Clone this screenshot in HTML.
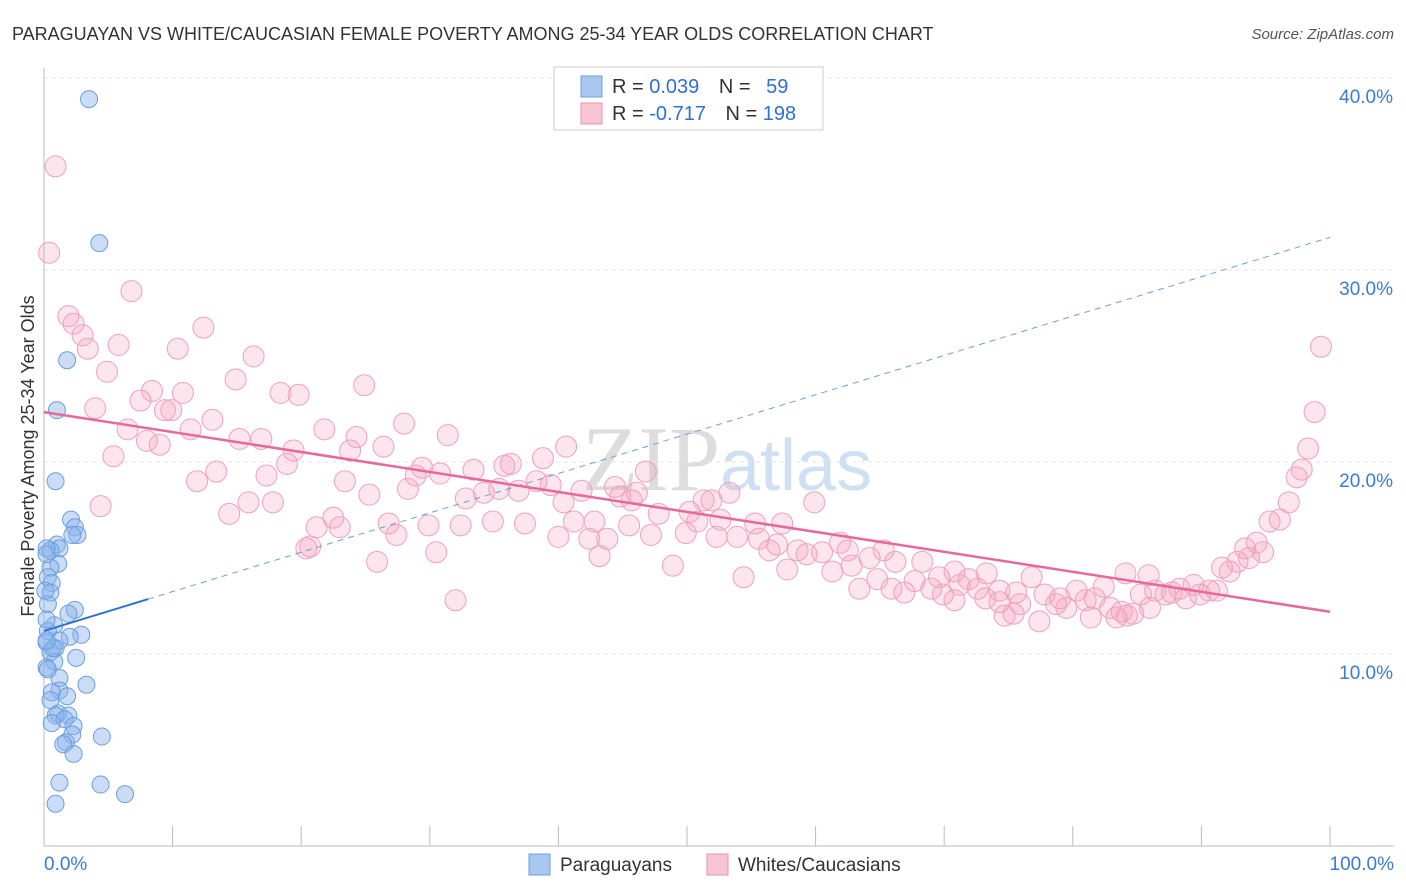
<!DOCTYPE html>
<html><head><meta charset="utf-8"><style>
body{margin:0;background:#fff;font-family:"Liberation Sans",sans-serif;}
#wrap{position:relative;width:1406px;height:892px;overflow:hidden;}
</style></head><body>
<div id="wrap">
<svg id="svg" width="1406" height="892" xmlns="http://www.w3.org/2000/svg">
<text x="12" y="40" font-size="18" fill="#333">PARAGUAYAN VS WHITE/CAUCASIAN FEMALE POVERTY AMONG 25-34 YEAR OLDS CORRELATION CHART</text>
<text x="1394" y="39" font-size="15" fill="#555" text-anchor="end" font-style="italic">Source: ZipAtlas.com</text>
<text x="720" y="490" font-size="92" fill="#ddd" text-anchor="end" font-family="Liberation Serif">ZIP</text>
<text x="720" y="490" font-size="72" fill="#cfe0f4">atlas</text>
<text transform="translate(34,456) rotate(-90)" font-size="18" fill="#333" text-anchor="middle">Female Poverty Among 25-34 Year Olds</text>
<g id="grid"></g><g id="ticks"></g><g id="pts"></g><g id="lines"></g>
<g>
<rect x="554" y="67" width="269" height="63" fill="#fff" stroke="#ccc"/>
<rect x="581" y="76" width="21" height="21" fill="#a9c8f0" stroke="#6a9fe0"/>
<rect x="581" y="103" width="21" height="21" fill="#f8c4d4" stroke="#e890b0"/>
<text x="612" y="93" font-size="20" fill="#333">R = <tspan fill="#2f6fd6"> 0.039</tspan>   <tspan dx="14">N = </tspan><tspan fill="#2f6fd6" dx="10">59</tspan></text>
<text x="612" y="120" font-size="20" fill="#333">R = <tspan fill="#2f6fd6">-0.717</tspan>   <tspan dx="14">N = </tspan><tspan fill="#2f6fd6">198</tspan></text>
</g>
<g>
<rect x="529" y="854" width="21" height="21" fill="#a9c8f0" stroke="#6a9fe0"/>
<text x="560" y="871" font-size="19" fill="#333">Paraguayans</text>
<rect x="707" y="854" width="21" height="21" fill="#f8c4d4" stroke="#e890b0"/>
<text x="738" y="871" font-size="19" fill="#333">Whites/Caucasians</text>
</g>
<text x="44" y="870" font-size="19" fill="#3a7bd5">0.0%</text>
<text x="1394" y="870" font-size="19" fill="#3a7bd5" text-anchor="end">100.0%</text>
</svg></div>
<script>
const yTicks=[10,20,30,40];
const xTicks=[0,10,20,30,40,50,60,70,80,90,100];
const blueX=[3.5,4.3,1.8,1.0,0.9,2.1,2.4,2.6,2.2,1.0,1.2,0.5,0.2,1.1,0.5,0.3,0.6,0.5,0.3,2.4,1.9,0.8,0.3,2.9,2.0,1.2,0.2,0.9,0.5,2.5,0.8,0.2,1.2,3.3,1.2,0.6,1.8,1.1,1.9,0.9,1.6,2.3,0.6,2.2,4.5,1.7,1.5,2.3,1.2,4.4,6.3,0.9,0.2,0.1,0.2,0.7,0.2,0.5,0.3];
const blueY=[38.9,31.4,25.3,22.7,19.0,17.0,16.6,16.2,16.2,15.7,15.5,15.4,15.5,14.7,14.5,14.0,13.7,13.2,12.6,12.3,12.1,11.5,11.2,11.0,10.9,10.7,10.6,10.3,10.1,9.8,9.6,9.3,8.75,8.4,8.1,8.0,7.8,6.9,6.8,6.8,6.6,6.25,6.4,5.8,5.7,5.4,5.3,4.8,3.3,3.2,2.7,2.2,15.2,13.3,11.8,10.3,10.7,7.6,9.2];
const pinkX=[0.9,0.4,6.8,1.9,2.3,3.0,3.4,5.8,12.4,10.4,16.3,4.9,14.9,24.9,8.4,10.8,18.4,19.8,7.5,3.98,9.4,9.9,13.1,28.0,6.5,11.4,21.8,31.4,24.3,15.2,16.9,8.0,9.0,26.4,19.4,23.8,5.4,38.8,40.6,18.9,36.3,35.8,29.4,33.4,13.4,30.8,46.8,17.3,28.9,11.9,23.4,38.3,39.4,44.4,35.4,34.2,28.3,36.9,25.3,41.8,46.1,32.8,44.8,45.7,53.3,51.3,51.9,15.9,17.8,40.4,59.9,4.4,14.4,47.8,50.2,22.5,34.9,37.4,32.4,26.8,29.9,41.2,42.8,45.5,52.6,50.8,55.3,57.4,21.2,23.0,27.4,40.0,42.4,43.8,47.2,49.9,52.3,53.9,55.6,57.0,20.7,20.4,30.5,43.2,56.4,58.6,59.3,60.5,61.9,62.5,65.3,25.9,48.9,57.8,62.8,64.2,66.2,68.3,54.4,61.3,64.8,67.7,69.6,71.2,71.9,73.3,76.8,80.3,82.4,84.1,63.4,65.9,66.9,69.0,69.9,70.8,72.6,74.3,74.3,75.6,75.9,77.8,79.0,79.5,81.0,81.7,82.9,83.8,84.7,85.3,86.0,86.4,87.2,87.7,88.3,88.8,89.4,89.9,90.6,91.2,74.7,75.4,77.4,78.7,81.4,83.4,84.2,91.6,92.2,92.8,93.7,94.3,94.8,93.4,95.3,96.1,96.8,97.4,97.8,98.3,98.8,99.3,32.0,73.2,85.9,70.8];
const pinkY=[35.4,30.9,28.9,27.6,27.2,26.6,25.9,26.1,27.0,25.9,25.5,24.7,24.3,24.0,23.7,23.6,23.6,23.5,23.2,22.8,22.7,22.7,22.2,22.0,21.7,21.7,21.7,21.4,21.3,21.2,21.2,21.1,20.9,20.8,20.6,20.6,20.3,20.2,20.8,19.9,19.9,19.8,19.7,19.6,19.5,19.4,19.5,19.3,19.3,19.0,19.0,19.0,18.8,18.7,18.6,18.4,18.6,18.5,18.3,18.5,18.4,18.1,18.2,18.0,18.4,18.0,18.0,17.9,17.9,17.9,17.9,17.7,17.3,17.3,17.4,17.1,16.9,16.8,16.7,16.8,16.7,16.9,16.9,16.7,17.0,16.9,16.8,16.8,16.6,16.6,16.2,16.1,16.0,16.0,16.2,16.3,16.1,16.1,16.0,15.7,15.6,15.5,15.3,15.1,15.4,15.4,15.2,15.3,15.8,15.4,15.4,14.8,14.6,14.4,14.6,15.0,14.8,14.8,14.0,14.3,13.9,13.8,14.0,13.6,13.9,14.2,14.0,13.3,13.5,14.2,13.4,13.4,13.2,13.4,13.1,12.8,13.4,13.3,12.7,13.2,12.6,13.1,12.9,12.4,12.8,12.9,12.4,12.2,12.1,13.1,12.4,13.3,13.1,13.2,13.4,12.9,13.6,13.1,13.3,13.3,12.0,12.1,11.7,12.6,11.9,11.9,12.0,14.5,14.3,14.8,15.0,15.8,15.3,15.5,16.9,17.0,17.9,19.2,19.6,20.7,22.6,26.0,12.8,12.9,14.1,14.3];
const blueTrend=[11.2,31.7];
const pinkTrend=[22.6,12.2];
const NS='http://www.w3.org/2000/svg';
const X0=44,X1=1330,YB=846,YT=78;
const sx=v=>X0+(X1-X0)*v/100;
const sy=v=>YB-(YB-YT)*v/40;
function mk(t,a,p){const e=document.createElementNS(NS,t);for(const k in a)e.setAttribute(k,a[k]);p.appendChild(e);return e;}
const grid=document.getElementById('grid'),ticks=document.getElementById('ticks');
yTicks.forEach(v=>{
 const l=mk('line',{x1:X0,x2:1394,y1:sy(v),y2:sy(v),stroke:'#e3e3e3','stroke-dasharray':'4,4'},grid);
 
 
 const t=mk('text',{x:1393,y:sy(v)+25,'font-size':19,fill:'#3a7bd5','text-anchor':'end'},grid);
 t.textContent=v.toFixed(1)+'%';
 
 
});
mk('line',{x1:X0,x2:X0,y1:68,y2:YB,stroke:'#bbb'},ticks);
mk('line',{x1:X0,x2:1394,y1:YB,y2:YB,stroke:'#bbb'},ticks);
xTicks.forEach(v=>{
 const l=mk('line',{x1:sx(v),x2:sx(v),y1:826,y2:YB,stroke:'#bbb'},ticks);
 
 
});
const pts=document.getElementById('pts');
pinkX.forEach((x,i)=>{
 const c=mk('circle',{cx:sx(x),cy:sy(pinkY[i]),r:10.5,fill:'rgba(244,160,190,0.28)',stroke:'#eea0bc','stroke-width':1},pts);
 
 
});
blueX.forEach((x,i)=>{
 const c=mk('circle',{cx:sx(x),cy:sy(blueY[i]),r:8.5,fill:'rgba(140,180,235,0.45)',stroke:'#6a9fe0','stroke-width':1},pts);
 
 
});
const lines=document.getElementById('lines');
const bAt=x=>blueTrend[0]+(blueTrend[1]-blueTrend[0])*x/100;
let l1=mk('line',{x1:sx(0),y1:sy(bAt(0)),x2:sx(8.1),y2:sy(bAt(8.1)),stroke:'#2f6fd6','stroke-width':2},lines);


let l2=mk('line',{x1:sx(8.1),y1:sy(bAt(8.1)),x2:sx(100),y2:sy(bAt(100)),stroke:'#6a9fe0','stroke-width':1,'stroke-dasharray':'6,5'},lines);


let l3=mk('line',{x1:sx(0),y1:sy(pinkTrend[0]),x2:sx(100),y2:sy(pinkTrend[1]),stroke:'#e8689a','stroke-width':2.5},lines);


</script>
</body></html>
